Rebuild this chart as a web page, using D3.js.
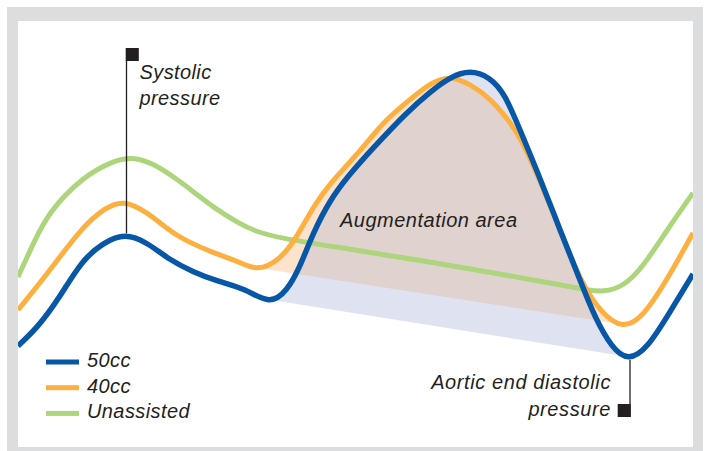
<!DOCTYPE html>
<html>
<head>
<meta charset="utf-8">
<script src="https://cdn.jsdelivr.net/npm/d3@7"></script>
<style>
  body { margin: 0; background: #fff; }
  text { font-family: "Liberation Sans", Arial, sans-serif; font-style: italic; fill: #231f20; }
</style>
</head>
<body>
<svg id="chart" width="705" height="451"></svg>
<script>
// ----------------------------
// Data (time in ms, pressure in mmHg)
// ----------------------------
var t50 = [0, 20, 40, 64, 85, 107, 130, 150, 175, 200, 228, 252, 269, 282, 295, 312, 330, 355, 389, 412, 432, 452, 472, 487, 502, 522, 542, 562, 577, 594, 610, 629, 652, 675];
var p50 = [60.0, 63.8, 69.2, 77.2, 80.6, 82.6, 80.6, 77.4, 74.8, 72.9, 71.4, 68.3, 71.0, 75.8, 82.6, 89.2, 94.0, 99.6, 106.8, 110.8, 113.8, 115.2, 113.8, 110.4, 103.2, 93.6, 83.2, 73.2, 65.6, 59.6, 57.0, 59.4, 66.8, 74.4];

var t40 = [0, 30, 64, 88, 106, 130, 147, 162, 195, 220, 239, 262, 279, 295, 312, 339, 365, 389, 412, 432, 452, 472, 492, 502, 522, 542, 562, 582, 605, 625, 649, 675];
var p40 = [67.2, 74.6, 83.8, 87.8, 89.2, 86.6, 83.8, 81.6, 78.6, 77.0, 74.9, 77.2, 81.8, 87.8, 92.6, 98.2, 104.8, 108.8, 112.6, 114.1, 112.4, 109.6, 104.8, 101.8, 93.2, 83.2, 73.2, 66.8, 63.3, 65.8, 73.2, 82.6];

var tUn = [0, 15, 30, 64, 97, 114, 135, 160, 177, 195, 220, 239, 262, 312, 412, 482, 549, 570, 585, 605, 625, 649, 675];
var pUn = [73.8, 80.4, 86.6, 93.8, 97.2, 97.8, 96.6, 93.2, 90.6, 87.8, 84.6, 82.8, 81.6, 80.0, 76.8, 74.4, 72.0, 71.2, 70.8, 71.8, 75.8, 83.2, 90.6];

var seriesNames = ["50cc", "40cc", "Unassisted"];
var seriesColors = ["#0857a7", "#fdb03f", "#acd57c"];

// index of the two pressure minima joined by the chord of the augmentation area
var minIdx50 = [11, 30];
var minIdx40 = [10, 28];

var systolicNote = { t: 108.5, lines: ["Systolic", "pressure"] };
var diastolicNote = { t: 612, lines: ["Aortic end diastolic", "pressure"] };

// ----------------------------
// Setup
// ----------------------------
var svg = d3.select("#chart");
var inner = { x: 18, y: 21, w: 675, h: 426 };

var x = d3.scaleLinear().domain([0, 675]).range([inner.x, inner.x + inner.w]);
var y = d3.scaleLinear().domain([40, 125]).range([446, 21]);

// frame
svg.append("rect").attr("x", 7).attr("y", 7).attr("width", 696).attr("height", 444).attr("fill", "#dcdddf");
svg.append("rect").attr("x", inner.x).attr("y", inner.y).attr("width", inner.w).attr("height", inner.h).attr("fill", "#fff");

var defs = svg.append("defs");
defs.append("clipPath").attr("id", "plotClip")
    .append("rect").attr("x", inner.x).attr("y", inner.y).attr("width", inner.w).attr("height", inner.h);

var plot = svg.append("g").attr("clip-path", "url(#plotClip)");

function toPoints(ts, ps) {
    return ts.map(function (t, i) { return { t: t, p: ps[i] }; });
}

var line = d3.line()
    .x(function (d) { return x(d.t); })
    .y(function (d) { return y(d.p); })
    .curve(d3.curveBasis);

// region under the curve, down to the bottom of the plot
var underArea = d3.area()
    .x(function (d) { return x(d.t); })
    .y0(inner.y + inner.h)
    .y1(function (d) { return y(d.p); })
    .curve(d3.curveBasis);

// value of the basis spline at a knot
function knotValue(ps, i) {
    return (ps[i - 1] + 4 * ps[i] + ps[i + 1]) / 6;
}

// polygon above the chord joining two minima
function chordPolygon(ts, ps, idx) {
    var x0 = x(ts[idx[0]]), x1 = x(ts[idx[1]]);
    var y0 = y(knotValue(ps, idx[0])), y1 = y(knotValue(ps, idx[1]));
    return "M" + x0 + "," + y0 + "L" + x1 + "," + y1 + "L" + x1 + "," + inner.y + "L" + x0 + "," + inner.y + "Z";
}

var pts50 = toPoints(t50, p50);
var pts40 = toPoints(t40, p40);
var ptsUn = toPoints(tUn, pUn);

// ----------------------------
// Augmentation shading
// ----------------------------
defs.append("clipPath").attr("id", "chord40").append("path").attr("d", chordPolygon(t40, p40, minIdx40));
defs.append("clipPath").attr("id", "chord50").append("path").attr("d", chordPolygon(t50, p50, minIdx50));
defs.append("clipPath").attr("id", "under40").append("path").attr("d", underArea(pts40));

plot.append("path").attr("d", underArea(pts40)).attr("fill", "#fde3cb").attr("clip-path", "url(#chord40)");
plot.append("path").attr("d", underArea(pts50)).attr("fill", "#dfe3f1").attr("clip-path", "url(#chord50)");

// overlap of both areas
plot.append("g").attr("clip-path", "url(#chord40)")
    .append("g").attr("clip-path", "url(#under40)")
    .append("path").attr("d", underArea(pts50)).attr("fill", "#e0d2ce").attr("clip-path", "url(#chord50)");

// ----------------------------
// Curves
// ----------------------------
plot.append("path").attr("d", line(ptsUn)).attr("fill", "none")
    .attr("stroke", seriesColors[2]).attr("stroke-width", 5);
plot.append("path").attr("d", line(pts40)).attr("fill", "none")
    .attr("stroke", seriesColors[1]).attr("stroke-width", 5);
plot.append("path").attr("d", line(pts50)).attr("fill", "none")
    .attr("stroke", seriesColors[0]).attr("stroke-width", 5.5);

// ----------------------------
// Annotations
// ----------------------------
var ink = "#231f20";

// systolic pressure
var sx = x(systolicNote.t);
var sy = y(knotValue(p50, 5));
svg.append("line").attr("x1", sx).attr("x2", sx)
    .attr("y1", 48).attr("y2", sy - 3)
    .attr("stroke", ink).attr("stroke-width", 1.3);
svg.append("rect").attr("x", sx - 0.7).attr("y", 48).attr("width", 13).attr("height", 13).attr("fill", ink);
svg.selectAll(".sysLabel").data(systolicNote.lines).enter().append("text")
    .attr("x", sx + 13).attr("y", function (d, i) { return 79 + i * 26; })
    .attr("font-size", 20).style("letter-spacing", "0.4px").text(function (d) { return d; });

// aortic end diastolic pressure
var dx = x(diastolicNote.t);
var dy = y(knotValue(p50, minIdx50[1]));
svg.append("line").attr("x1", dx).attr("x2", dx)
    .attr("y1", dy + 3).attr("y2", 417)
    .attr("stroke", ink).attr("stroke-width", 1.3);
svg.append("rect").attr("x", dx - 12.3).attr("y", 404).attr("width", 13).attr("height", 13).attr("fill", ink);
svg.selectAll(".diaLabel").data(diastolicNote.lines).enter().append("text")
    .attr("x", dx - 19).attr("y", function (d, i) { return 389 + i * 27; })
    .attr("text-anchor", "end")
    .attr("font-size", 20).style("letter-spacing", "0.6px").text(function (d) { return d; });

// augmentation area label
svg.append("text").attr("x", 340).attr("y", 227)
    .attr("font-size", 20).style("letter-spacing", "0.5px").text("Augmentation area");

// ----------------------------
// Legend
// ----------------------------
var legend = svg.append("g").attr("transform", "translate(46,362)");
var items = legend.selectAll("g").data(seriesNames).enter().append("g")
    .attr("transform", function (d, i) { return "translate(0," + (i * 25.7) + ")"; });
items.append("rect").attr("x", 0).attr("y", -2.5).attr("width", 33).attr("height", 5)
    .attr("fill", function (d, i) { return seriesColors[i]; });
items.append("text").attr("x", 41).attr("y", 5)
    .attr("font-size", 20).style("letter-spacing", "0.4px").text(function (d) { return d; });
</script>
</body>
</html>
